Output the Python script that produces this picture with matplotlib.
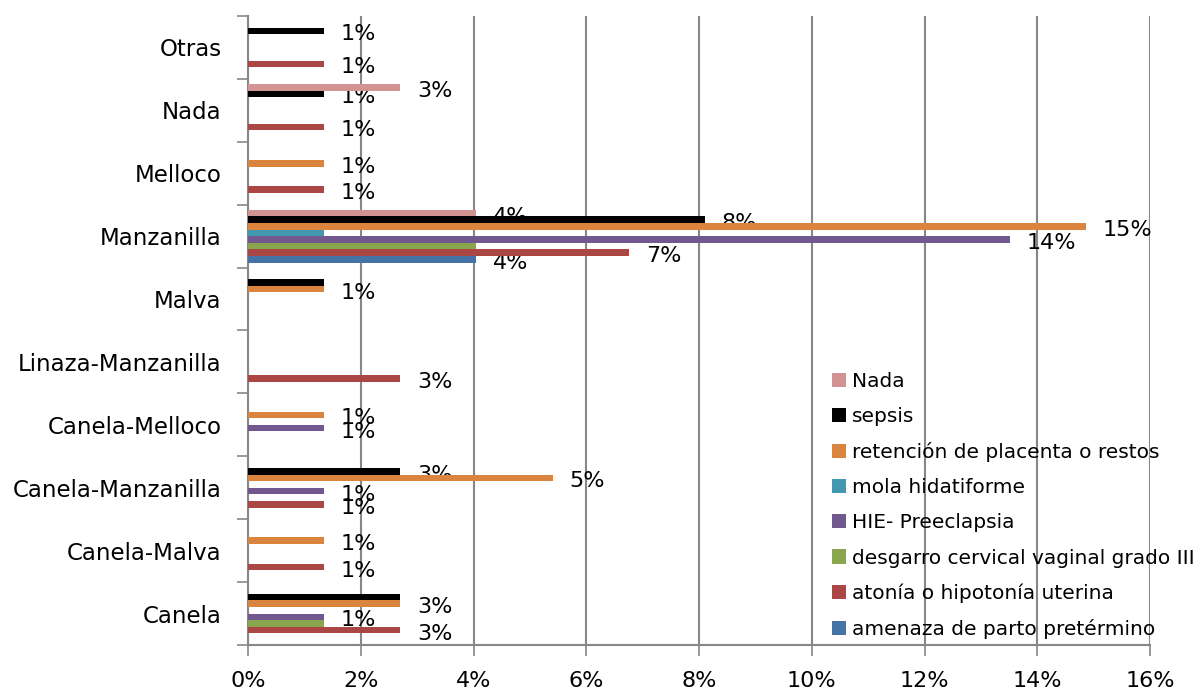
import matplotlib.pyplot as plt
from matplotlib.patches import Patch
from matplotlib.ticker import FixedLocator, FuncFormatter

plt.rcParams['font.family'] = ['DejaVu Sans']

# ==============================
# DATA (percent)
# ==============================
categories = ["Canela", "Canela-Malva", "Canela-Manzanilla", "Canela-Melloco",
              "Linaza-Manzanilla", "Malva", "Manzanilla", "Melloco", "Nada", "Otras"]

series_names = ["amenaza de parto pretérmino", "atonía o hipotonía uterina",
                "desgarro cervical vaginal grado III", "HIE- Preeclapsia",
                "mola hidatiforme", "retención de placenta o restos", "sepsis", "Nada"]

amenaza   = [0,    0,    0,    0,    0,    0,    4.05,  0,    0,    0]
atonia    = [2.7,  1.35, 1.35, 0,    2.7,  0,    6.76,  1.35, 1.35, 1.35]
desgarro  = [1.35, 0,    0,    0,    0,    0,    4.05,  0,    0,    0]
hie       = [1.35, 0,    1.35, 1.35, 0,    0,    13.51, 0,    0,    0]
mola      = [0,    0,    0,    0,    0,    0,    1.35,  0,    0,    0]
retencion = [2.7,  1.35, 5.41, 1.35, 0,    1.35, 14.86, 1.35, 0,    0]
sepsis    = [2.7,  0,    2.7,  0,    0,    1.35, 8.11,  0,    1.35, 1.35]
nada      = [0,    0,    0,    0,    0,    0,    4.05,  0,    2.7,  0]

series_values = [amenaza, atonia, desgarro, hie, mola, retencion, sepsis, nada]

colors = ["#4572A7", "#AA4643", "#89A54E", "#71588F",
          "#4198AF", "#DB843D", "#000000", "#D49393"]

# labels hidden in the original, mostly where two labels sit on top of each other
# (series index, category index)
hidden_labels = {(2, 0), (6, 0), (6, 5), (2, 6), (4, 6)}

# ==============================
# PLOT
# ==============================
fig = plt.figure(figsize=(11.98, 6.91), dpi=100)
ax = fig.add_axes([248 / 1198, 1 - 645 / 691, (1150 - 248) / 1198, (645 - 16) / 691])

n = len(series_values)
bar_h = 0.105
for i, (vals, col) in enumerate(zip(series_values, colors)):
    ypos = [c + (i - (n - 1) / 2) * bar_h for c in range(len(categories))]
    ax.barh(ypos, vals, height=bar_h, color=col, zorder=3)
    for j, (y, v) in enumerate(zip(ypos, vals)):
        if v > 0 and (i, j) not in hidden_labels:
            ax.annotate(f"{round(v):.0f}%", xy=(v, y), xytext=(12, -2.5),
                        textcoords="offset points", va="center", ha="left",
                        fontsize=16, color="black", zorder=2)

ax.set_xlim(0, 16)
ax.set_ylim(-0.5, len(categories) - 0.5)

ax.set_xticks(range(0, 17, 2))
ax.xaxis.set_major_formatter(FuncFormatter(lambda x, p: f"{x:.0f}%"))
ax.set_yticks(range(len(categories)))
ax.set_yticklabels(categories)
ax.yaxis.set_minor_locator(FixedLocator([k - 0.5 for k in range(len(categories) + 1)]))

ax.tick_params(axis="y", which="major", length=0, pad=19, labelsize=16.5)
ax.tick_params(axis="y", which="minor", length=8, width=1.2, color="#878787", direction="out")
ax.tick_params(axis="x", which="major", length=8, width=1.2, color="#878787",
               direction="out", labelsize=16, pad=11)

ax.grid(axis="x", color="#878787", linewidth=1.5, zorder=0)
ax.set_axisbelow(True)
for s in ["top", "right"]:
    ax.spines[s].set_visible(False)
for s in ["left", "bottom"]:
    ax.spines[s].set_color("#878787")
    ax.spines[s].set_linewidth(1.5)

handles = [Patch(facecolor=c, label=l) for c, l in zip(colors, series_names)][::-1]
fig.legend(handles=handles, loc="upper left", bbox_to_anchor=(832 / 1198, 1 - 372 / 691),
           frameon=False, fontsize=14.5, handlelength=0.7, handleheight=0.7,
           handletextpad=0.3, labelspacing=0.8, borderpad=0, borderaxespad=0)

plt.savefig("out.png", dpi=100)
